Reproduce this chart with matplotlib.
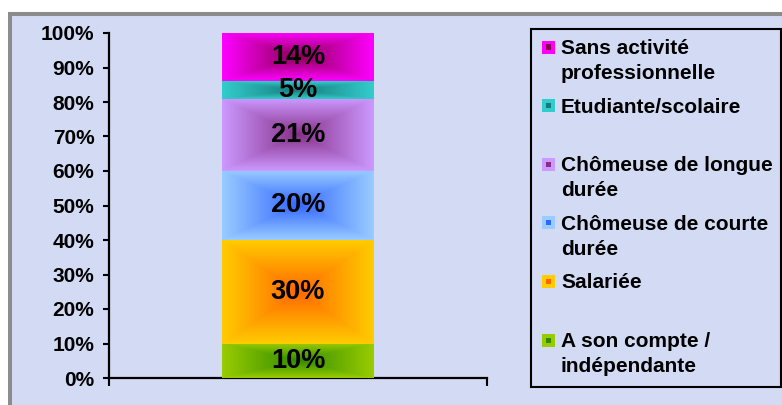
"""
Stacked 100% bar: situation professionnelle
"""

import numpy as np
import matplotlib.pyplot as plt
from matplotlib.patches import Rectangle
from matplotlib.colors import to_rgb
from matplotlib.ticker import PercentFormatter

plt.rcParams['font.family'] = ['Liberation Sans', 'DejaVu Sans']
plt.rcParams['font.weight'] = 'bold'

# Data (bottom to top)
categories = ['A son compte /\nindépendante', 'Salariée', 'Chômeuse de courte\ndurée',
              'Chômeuse de longue\ndurée', 'Etudiante/scolaire', 'Sans activité\nprofessionnelle']
shares = [10, 30, 20, 21, 5, 14]
edge_colors = ['#99cc00', '#ffcc00', '#99ccff', '#cc99ff', '#33cccc', '#ff00ff']
center_colors = ['#2f8a00', '#ff6600', '#3366ff', '#862e86', '#167a7a', '#8a0050']

W, H = 782, 405


def fx(x):
    return x / W


def fy(y):
    return 1 - y / H


fig = plt.figure(figsize=(W / 100, H / 100), dpi=100)
fig.patch.set_facecolor('white')

# outer chart frame (cut off at right / bottom)
fig.add_artist(Rectangle((fx(10), fy(430)), fx(820) - fx(10), fy(14) - fy(430),
                         transform=fig.transFigure, facecolor='#d2daf4',
                         edgecolor='#8c8c8c', linewidth=2.9, zorder=0))

ax = fig.add_axes([fx(109), fy(378), (487 - 109) / W, (378 - 33) / H])
ax.set_facecolor('none')

bar_width = 0.402
bottoms = np.concatenate([[0], np.cumsum(shares)[:-1]])

uu, vv = np.meshgrid(np.linspace(-1, 1, 240), np.linspace(-1, 1, 120))
tt = np.maximum(np.abs(uu), np.abs(vv)) ** 0.95

for s, b, ec, cc in zip(shares, bottoms, edge_colors, center_colors):
    bar = ax.bar(0.5, s / 100, bar_width, bottom=b / 100, color=ec, linewidth=0, zorder=2)[0]
    e = np.array(to_rgb(ec))
    c = np.array(to_rgb(cc))
    img = c[None, None, :] * (1 - tt[..., None]) + e[None, None, :] * tt[..., None]
    ax.imshow(img, extent=(bar.get_x(), bar.get_x() + bar.get_width(),
                           bar.get_y(), bar.get_y() + bar.get_height()),
              aspect='auto', origin='lower', interpolation='bilinear', zorder=3)
    ax.text(0.5, (b + s / 2) / 100, f'{s}%', ha='center', va='center',
            fontsize=19.5, fontweight='bold', color='black', zorder=4)

ax.set_xlim(0, 1)
ax.set_ylim(0, 1)
ax.set_yticks(np.arange(0, 1.01, 0.1))
ax.yaxis.set_major_formatter(PercentFormatter(1.0, decimals=0))
ax.set_xticks([0, 1])
ax.set_xticklabels([])
ax.tick_params(axis='y', length=4.5, width=1.5, pad=6, labelsize=15)
ax.tick_params(axis='x', length=6, width=1.5)
for side in ['top', 'right']:
    ax.spines[side].set_visible(False)
for side in ['left', 'bottom']:
    ax.spines[side].set_linewidth(1.6)

# legend box drawn by hand (Excel-like layout)
fig.add_artist(Rectangle((fx(531), fy(387)), fx(781) - fx(531), fy(29) - fy(387),
                         transform=fig.transFigure, facecolor='none',
                         edgecolor='black', linewidth=1.5, zorder=5))

for i, idx in enumerate(range(len(categories) - 1, -1, -1)):
    yc = 47 + 58.6 * i
    fig.add_artist(Rectangle((fx(542), fy(yc + 6.5)), 13 / W, 13 / H,
                             transform=fig.transFigure, facecolor=edge_colors[idx],
                             edgecolor='none', zorder=6))
    fig.add_artist(Rectangle((fx(546), fy(yc + 2.5)), 5 / W, 5 / H,
                             transform=fig.transFigure, facecolor=center_colors[idx],
                             edgecolor='none', zorder=7))
    for k, line in enumerate(categories[idx].split('\n')):
        fig.text(fx(561), fy(yc + 25 * k + 7), line, ha='left', va='baseline',
                 fontsize=15, fontweight='bold', color='black', zorder=7)

plt.savefig('out.png', dpi=100)
plt.close()
